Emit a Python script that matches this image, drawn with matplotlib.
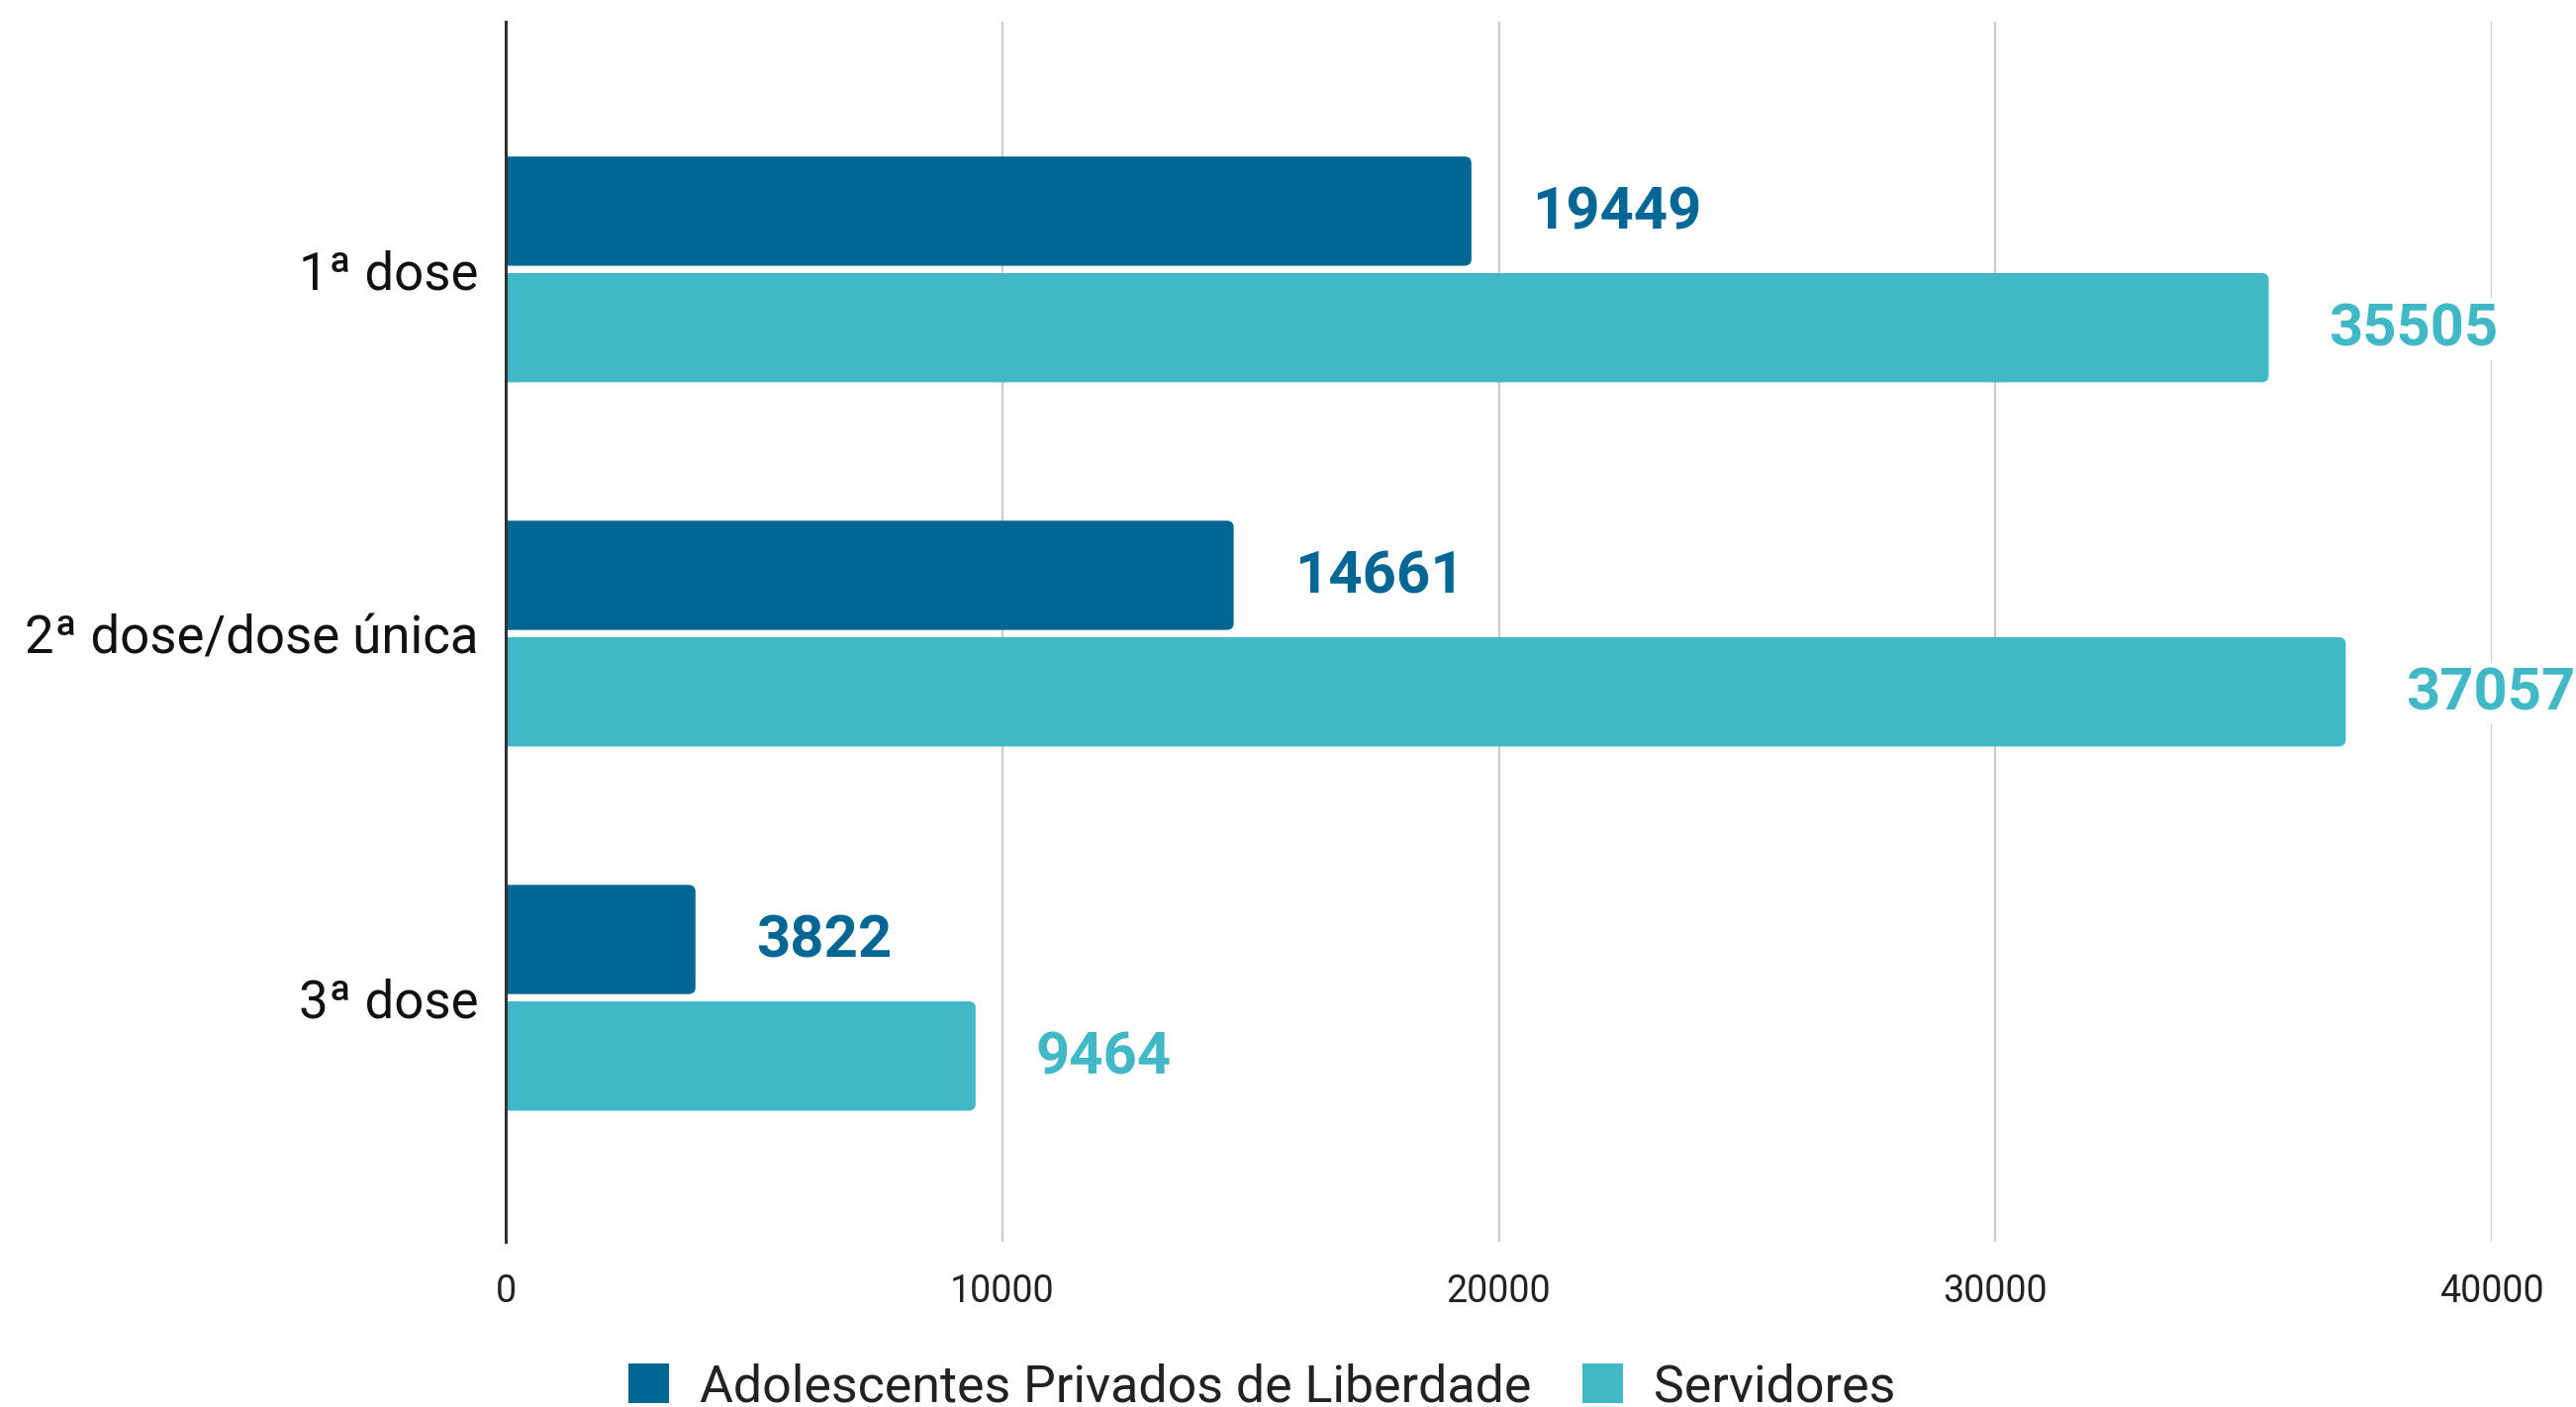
import matplotlib
matplotlib.use("Agg")
import matplotlib.pyplot as plt
from matplotlib.patches import FancyBboxPatch, Patch
import numpy as np

categories = ["1ª dose", "2ª dose/dose única", "3ª dose"]
adolescentes = [19449, 14661, 3822]
servidores = [35505, 37057, 9464]
series_names = ["Adolescentes Privados de Liberdade", "Servidores"]
x_ticks = [0, 10000, 20000, 30000, 40000]

c_dark = "#006794"
c_light = "#41B8C6"

plt.rcParams['font.family'] = ['Roboto', 'DejaVu Sans']

fig = plt.figure(figsize=(26.03, 14.22), dpi=100)
ax = fig.add_axes([511/2603, 1-1255/1422, (2518-511)/2603, (1255-22)/1422])

ax.set_xlim(0, 40000)
ax.set_ylim(2.67, -0.68)

y = np.arange(len(categories))
h = 0.30
off = 0.16
b1 = ax.barh(y - off, adolescentes, height=h, color=c_dark, zorder=3)
b2 = ax.barh(y + off, servidores, height=h, color=c_light, zorder=3)

r = 140.0
aspect = 0.019 / r
for bars, col in ((b1, c_dark), (b2, c_light)):
    for rect in bars:
        x0, y0 = rect.get_x(), rect.get_y()
        w, hh = rect.get_width(), rect.get_height()
        rect.remove()
        p = FancyBboxPatch((x0 - 3 * r, y0), w + 3 * r, hh,
                           boxstyle=f"round,pad=0,rounding_size={r}",
                           mutation_aspect=aspect, fc=col, ec="none",
                           zorder=3, clip_on=True)
        ax.add_patch(p)

for bars, vals, col in ((b1, adolescentes, c_dark), (b2, servidores, c_light)):
    for rect, v in zip(bars, vals):
        ax.annotate(str(v), xy=(v, rect.get_y() + rect.get_height()/2),
                    xytext=(44, -1.5), textcoords="offset points",
                    ha="left", va="center", fontsize=43, fontweight="bold",
                    color=col, zorder=5, annotation_clip=False,
                    bbox=dict(boxstyle="square,pad=0.05", fc="white", ec="none"))

ax.set_xticks(x_ticks)
ax.set_xticklabels([str(t) for t in x_ticks])
ax.set_yticks(y)
ax.set_yticklabels(categories)
ax.tick_params(axis="y", length=0, pad=20, labelsize=38, labelcolor="#111111")
ax.tick_params(axis="x", length=0, pad=23, labelsize=27, labelcolor="#222222")

ax.grid(axis="x", color="#cccccc", linewidth=1.6, zorder=0)
ax.set_axisbelow(True)
for s in ("top", "right", "bottom"):
    ax.spines[s].set_visible(False)
ax.spines["left"].set_color("#333333")
ax.spines["left"].set_linewidth(2.2)
ax.spines["left"].set_zorder(4)

handles = [Patch(facecolor=c_dark, edgecolor="none"),
           Patch(facecolor=c_light, edgecolor="none")]
fig.legend(handles=handles, labels=series_names, loc="center",
           bbox_to_anchor=(0.49, 0.014), ncol=2, frameon=False,
           fontsize=37.4, handlelength=0.78, handleheight=0.78,
           handletextpad=0.6, columnspacing=1.0, labelcolor="#222222",
           borderaxespad=0, borderpad=0)

fig.savefig("out.png", dpi=100, facecolor="white")
